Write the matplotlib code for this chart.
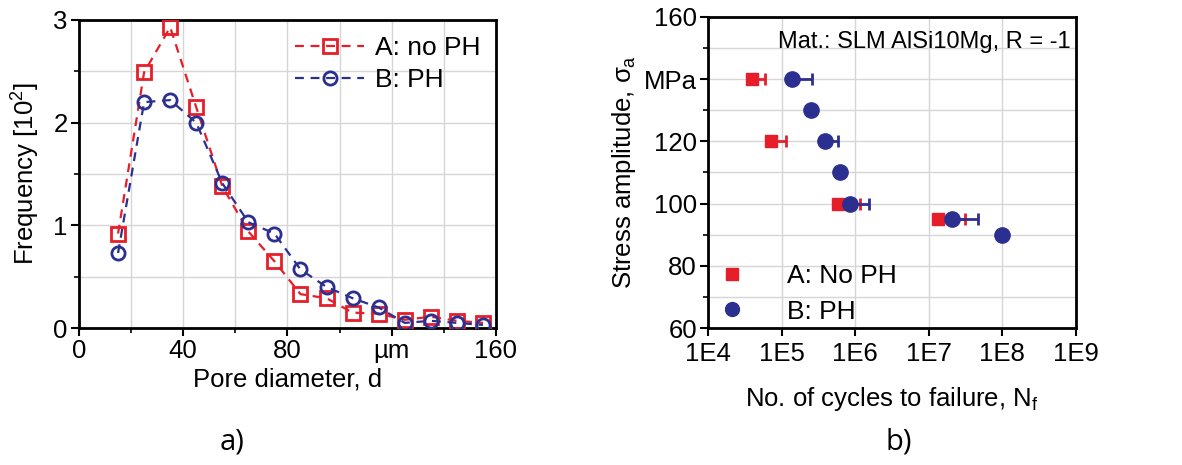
import matplotlib
matplotlib.use('Agg')
import matplotlib.pyplot as plt
from matplotlib.lines import Line2D
import numpy as np

#############################
# data ######################
#############################

# a) pore size distribution
pore_d = [15, 25, 35, 45, 55, 65, 75, 85, 95, 105, 115, 125, 135, 145, 155]
freq_a = [0.92, 2.49, 2.93, 2.15, 1.38, 0.94, 0.65, 0.33, 0.29, 0.15, 0.14, 0.08, 0.11, 0.07, 0.05]
freq_b = [0.73, 2.20, 2.22, 2.00, 1.41, 1.03, 0.92, 0.57, 0.40, 0.29, 0.20, 0.05, 0.07, 0.05, 0.03]
a_xticks = [0, 40, 80, 120, 160]
a_xticklabels = ['0', '40', '80', 'µm', '160']
a_yticks = [0, 1, 2, 3]

# b) S-N data, error bars to the right only
sa_a = [140, 120, 100, 95]
nf_a = [4.0e4, 7.1e4, 5.8e5, 1.35e7]
nf_a_max = [5.9e4, 1.16e5, 1.15e6, 3.1e7]
sa_b = [140, 130, 120, 110, 100, 95, 90]
nf_b = [1.39e5, 2.47e5, 3.87e5, 6.26e5, 8.5e5, 2.05e7, 1.0e8]
nf_b_max = [2.55e5, None, 5.76e5, None, 1.52e6, 4.6e7, None]
b_xticks = [1e4, 1e5, 1e6, 1e7, 1e8, 1e9]
b_xticklabels = ['1E4', '1E5', '1E6', '1E7', '1E8', '1E9']
b_yticks = [60, 80, 100, 120, 140, 160]
b_yticklabels = ['60', '80', '100', '120', 'MPa', '160']

#############################
# style #####################
#############################

red = '#e61e2a'
blue = '#2b2f8f'
grid_c = '#d6d6d6'

plt.rcParams['font.family'] = ['Liberation Sans', 'DejaVu Sans']
plt.rcParams['mathtext.fontset'] = 'custom'
plt.rcParams['mathtext.rm'] = 'Liberation Sans'
plt.rcParams['mathtext.it'] = 'Liberation Sans'

fig = plt.figure(figsize=(11.82, 4.65), dpi=100)
ax1 = fig.add_axes([0.0668, 0.2946, 0.3528, 0.6624])
ax2 = fig.add_axes([0.599, 0.2946, 0.3113, 0.669])


def style_axes(ax):
    for s in ax.spines.values():
        s.set_linewidth(2)
    ax.tick_params(which='major', direction='out', length=6, width=1.5,
                   labelsize=18.5, pad=2)
    ax.tick_params(which='minor', direction='out', length=3.5, width=1.2)
    ax.tick_params(top=False, right=False)
    ax.set_axisbelow(True)


#############################
# a) ########################
#############################

ax1.plot(pore_d, freq_a, color=red, linestyle=(0, (4, 3)), linewidth=1.6,
         marker='s', markersize=9.5, markerfacecolor='none', markeredgewidth=2,
         label='A: no PH', zorder=3)
ax1.plot(pore_d, freq_b, color=blue, linestyle=(0, (4, 3)), linewidth=1.6,
         marker='o', markersize=9.5, markerfacecolor='none', markeredgewidth=2,
         label='B: PH', zorder=3)
ax1.set_xlim(0, 160)
ax1.set_ylim(0, 3)
ax1.set_xticks(a_xticks)
ax1.set_xticklabels(a_xticklabels)
ax1.set_yticks(a_yticks)
ax1.set_xticks(np.arange(20, 160, 40), minor=True)
ax1.set_yticks(np.arange(0.5, 3, 1.0), minor=True)
ax1.grid(True, which='both', color=grid_c, linewidth=1)
style_axes(ax1)
ax1.set_xlabel('Pore diameter, d', fontsize=18.5, labelpad=3)
ax1.set_ylabel('Frequency [10$^2$]', fontsize=18.5, labelpad=8)
ax1.legend(loc='upper right', frameon=False, fontsize=19, handlelength=2.6,
           handletextpad=0.4, borderaxespad=0.2, labelspacing=0.3)

#############################
# b) ########################
#############################

err_a = [np.zeros(len(nf_a)), np.array(nf_a_max) - np.array(nf_a)]
ax2.errorbar(nf_a, sa_a, xerr=err_a, fmt='s', color=red, markersize=9,
             elinewidth=2, capsize=4, capthick=2, zorder=3)
bx = [n for n, m in zip(nf_b, nf_b_max) if m is not None]
by = [s for s, m in zip(sa_b, nf_b_max) if m is not None]
bup = [m - n for n, m in zip(nf_b, nf_b_max) if m is not None]
ax2.errorbar(bx, by, xerr=[np.zeros(len(bx)), bup], fmt='none', ecolor=blue,
             elinewidth=2, capsize=4, capthick=2, zorder=3)
ax2.plot(nf_b, sa_b, 'o', color=blue, markersize=11, zorder=4)

ax2.set_xscale('log')
ax2.set_xlim(1e4, 1e9)
ax2.set_ylim(60, 160)
ax2.set_xticks(b_xticks)
ax2.set_xticklabels(b_xticklabels)
ax2.set_yticks(b_yticks)
ax2.set_yticklabels(b_yticklabels)
ax2.set_yticks(np.arange(70, 160, 20), minor=True)
ax2.grid(True, which='major', color=grid_c, linewidth=1)
ax2.grid(True, which='minor', axis='y', color=grid_c, linewidth=1)
style_axes(ax2)
ax2.tick_params(axis='x', which='major', pad=4)
ax2.set_xlabel('No. of cycles to failure, N$_f$', fontsize=18.5, labelpad=14)
ax2.set_ylabel('Stress amplitude, $\\sigma_a$', fontsize=18.5, labelpad=4)
ax2.text(0.985, 0.955, 'Mat.: SLM AlSi10Mg, R = -1', transform=ax2.transAxes,
         ha='right', va='top', fontsize=17)
handles = [Line2D([], [], linestyle='none', marker='s', color=red, markersize=8),
           Line2D([], [], linestyle='none', marker='o', color=blue, markersize=10)]
ax2.legend(handles, ['A: No PH', 'B: PH'], loc='lower left',
           bbox_to_anchor=(0.0, -0.02), frameon=False,
           fontsize=19, handletextpad=1.6, borderaxespad=0.0,
           labelspacing=0.45, handlelength=1.0)

# panel labels
fig.text(0.196, 0.05, 'a)', fontsize=21, ha='center', va='center',
         family=['Open Sans', 'DejaVu Sans'])
fig.text(0.760, 0.05, 'b)', fontsize=21, ha='center', va='center',
         family=['Open Sans', 'DejaVu Sans'])

fig.savefig('out.png', dpi=100)
